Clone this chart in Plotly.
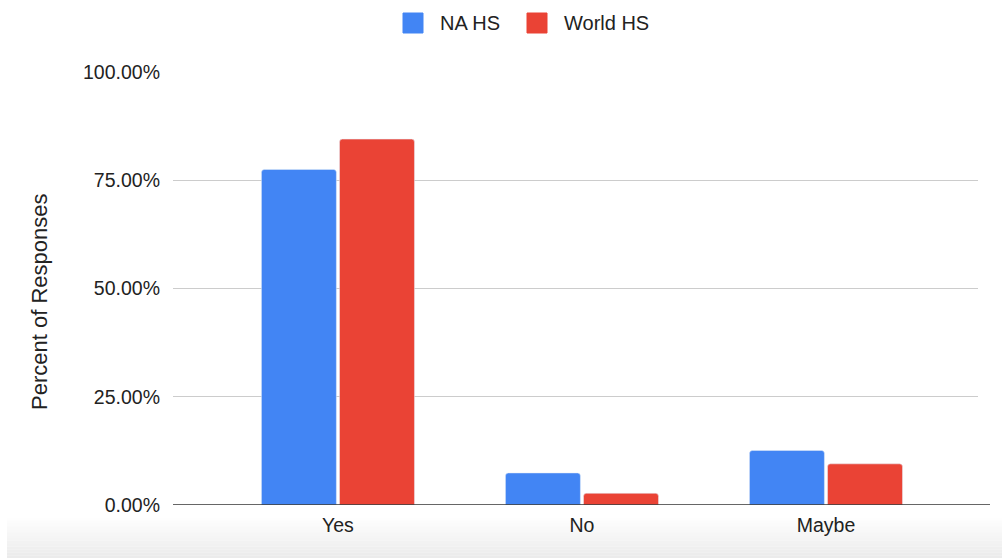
import plotly.graph_objects as go

categories = ["Yes", "No", "Maybe"]
na_hs = [0.775, 0.074, 0.126]
world_hs = [0.845, 0.027, 0.095]
y_ticks = [0, 0.25, 0.5, 0.75, 1.0]
y_tick_labels = ["0.00%", "25.00%", "50.00%", "75.00%", "100.00%"]
series_names = ["NA HS", "World HS"]
series_colors = ["#4285F4", "#EA4335"]

FONT = "Liberation Sans, Arial, sans-serif"
TEXT = "#222222"
FS = 19.5

L, R, T, B, W, H = 173, 24, 72, 53, 1002, 558
PW, PH = W - L - R, H - T - B


def px_x(px):
    return (px - L) / PW


def px_y(py):
    return (H - B - py) / PH


fig = go.Figure()
for name, vals, col in zip(series_names, [na_hs, world_hs], series_colors):
    fig.add_trace(go.Bar(name=name, x=categories, y=vals, marker_color=col,
                         showlegend=False))

shapes = []
annotations = []

# legend row: swatches with labels
legend_items = [(403, 438), (527, 562)]
for (sx, tx), name, col in zip(legend_items, series_names, series_colors):
    shapes.append(dict(type="rect", xref="paper", yref="paper",
                       x0=px_x(sx), x1=px_x(sx + 20), y0=px_y(33), y1=px_y(13),
                       line=dict(color=col, width=1), fillcolor=col))
    annotations.append(dict(text=name, xref="paper", yref="paper",
                            x=px_x(tx), y=px_y(23), xanchor="left", yanchor="middle",
                            showarrow=False, font=dict(size=20, color=TEXT, family=FONT)))

# axis title
annotations.append(dict(text="Percent of Responses", xref="paper", yref="paper",
                        x=px_x(39), y=px_y(302), xanchor="center", yanchor="middle",
                        textangle=-90, showarrow=False,
                        font=dict(size=22, color=TEXT, family=FONT)))

# baseline running slightly past the plot area
shapes.append(dict(type="line", xref="paper", yref="y", x0=0, x1=px_x(990),
                   y0=0, y1=0, line=dict(color="#333333", width=1.5)))

# soft grey fade along the bottom edge of the page
steps = 14
top0, span = 518, 40
for i in range(steps):
    top_px = top0 + i * span / steps
    shapes.append(dict(
        type="rect", xref="paper", yref="paper", layer="below",
        x0=px_x(7), x1=px_x(W + 5),
        y0=px_y(top_px + span / steps), y1=px_y(top_px),
        line=dict(width=0), fillcolor="#ebebeb", opacity=(i + 1) / steps,
    ))

fig.update_layout(
    width=W, height=H,
    margin=dict(l=L, r=R, t=T, b=B),
    paper_bgcolor="white", plot_bgcolor="white",
    font=dict(family=FONT, size=FS, color=TEXT),
    barmode="group", bargap=0.36, bargroupgap=0.04, barcornerradius=3,
    showlegend=False,
    shapes=shapes,
    annotations=annotations,
    xaxis=dict(range=[-0.676, 2.623], showgrid=False, showline=False,
               ticks="", ticklabelstandoff=6,
               tickfont=dict(size=FS, color=TEXT, family=FONT)),
    yaxis=dict(range=[0, 1.0], tickvals=y_ticks, ticktext=y_tick_labels,
               showgrid=True, gridcolor="#cccccc", gridwidth=1,
               zeroline=False,
               ticks="", ticklabelstandoff=12,
               tickfont=dict(size=FS, color=TEXT, family=FONT)),
)

fig.write_html("out.html")
